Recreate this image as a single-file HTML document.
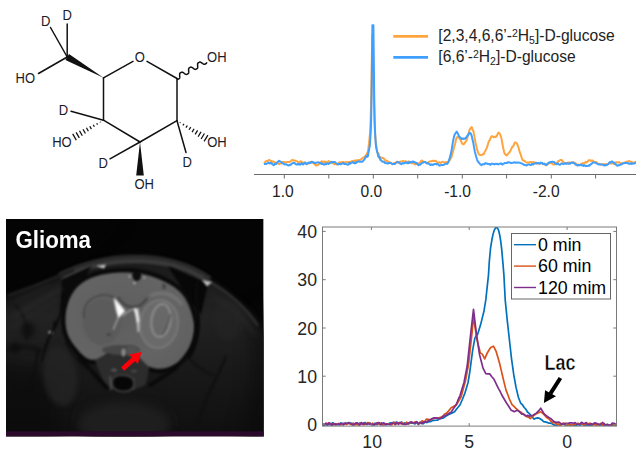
<!DOCTYPE html>
<html><head><meta charset="utf-8"><style>
html,body{margin:0;padding:0;background:#fff;}
body{width:636px;height:454px;overflow:hidden;}
svg{display:block;font-family:"Liberation Sans",sans-serif;}
</style></head><body>
<svg width="636" height="454" viewBox="0 0 636 454">
<rect width="636" height="454" fill="#fff"/>
<g><line x1="103.5" y1="77.8" x2="133.0" y2="61.4" stroke="#111" stroke-width="1.5" stroke-linecap="round"/>
<line x1="147.0" y1="61.4" x2="177.0" y2="78.5" stroke="#111" stroke-width="1.5" stroke-linecap="round"/>
<line x1="177.0" y1="78.5" x2="177.0" y2="120.7" stroke="#111" stroke-width="1.5" stroke-linecap="round"/>
<line x1="177.0" y1="120.7" x2="140.0" y2="142.0" stroke="#111" stroke-width="1.5" stroke-linecap="round"/>
<line x1="140.0" y1="142.0" x2="103.5" y2="120.2" stroke="#111" stroke-width="1.5" stroke-linecap="round"/>
<line x1="103.5" y1="120.2" x2="103.5" y2="77.8" stroke="#111" stroke-width="1.5" stroke-linecap="round"/>
<polygon points="103.5,77.8 69.0,53.9 65.4,60.1" fill="#111"/>
<line x1="67.2" y1="57.0" x2="67.2" y2="24.0" stroke="#111" stroke-width="1.5" stroke-linecap="round"/>
<line x1="67.2" y1="57.0" x2="50.5" y2="27.5" stroke="#111" stroke-width="1.5" stroke-linecap="round"/>
<line x1="67.2" y1="57.0" x2="38.5" y2="73.5" stroke="#111" stroke-width="1.5" stroke-linecap="round"/>
<line x1="103.5" y1="120.2" x2="71.0" y2="111.3" stroke="#111" stroke-width="1.5" stroke-linecap="round"/>
<line x1="100.1" y1="121.7" x2="100.5" y2="122.4" stroke="#111" stroke-width="1.25"/>
<line x1="96.7" y1="123.2" x2="97.5" y2="124.6" stroke="#111" stroke-width="1.25"/>
<line x1="93.2" y1="124.8" x2="94.4" y2="126.8" stroke="#111" stroke-width="1.25"/>
<line x1="89.8" y1="126.3" x2="91.4" y2="129.1" stroke="#111" stroke-width="1.25"/>
<line x1="86.4" y1="127.8" x2="88.4" y2="131.3" stroke="#111" stroke-width="1.25"/>
<line x1="83.0" y1="129.3" x2="85.4" y2="133.5" stroke="#111" stroke-width="1.25"/>
<line x1="79.5" y1="130.8" x2="82.3" y2="135.7" stroke="#111" stroke-width="1.25"/>
<line x1="76.1" y1="132.4" x2="79.3" y2="137.9" stroke="#111" stroke-width="1.25"/>
<line x1="72.7" y1="133.9" x2="76.3" y2="140.1" stroke="#111" stroke-width="1.25"/>
<line x1="140.0" y1="142.0" x2="110.0" y2="158.8" stroke="#111" stroke-width="1.5" stroke-linecap="round"/>
<polygon points="140.0,142.0 136.2,175.5 143.8,175.5" fill="#111"/>
<line x1="180.0" y1="123.0" x2="180.4" y2="122.3" stroke="#111" stroke-width="1.25"/>
<line x1="183.0" y1="125.3" x2="183.9" y2="123.9" stroke="#111" stroke-width="1.25"/>
<line x1="186.0" y1="127.6" x2="187.3" y2="125.5" stroke="#111" stroke-width="1.25"/>
<line x1="189.1" y1="129.8" x2="190.7" y2="127.1" stroke="#111" stroke-width="1.25"/>
<line x1="192.1" y1="132.1" x2="194.1" y2="128.7" stroke="#111" stroke-width="1.25"/>
<line x1="195.1" y1="134.4" x2="197.6" y2="130.3" stroke="#111" stroke-width="1.25"/>
<line x1="198.1" y1="136.7" x2="201.0" y2="131.9" stroke="#111" stroke-width="1.25"/>
<line x1="201.1" y1="139.0" x2="204.4" y2="133.5" stroke="#111" stroke-width="1.25"/>
<line x1="204.1" y1="141.3" x2="207.9" y2="135.1" stroke="#111" stroke-width="1.25"/>
<line x1="177.0" y1="120.7" x2="186.0" y2="152.5" stroke="#111" stroke-width="1.5" stroke-linecap="round"/>
<polyline points="177.02,79.41 177.30,79.47 177.54,79.46 177.76,79.41 177.96,79.33 178.14,79.22 178.33,79.11 178.51,79.01 178.70,78.90 178.89,78.80 179.08,78.70 179.26,78.58 179.42,78.43 179.55,78.23 179.65,77.97 179.72,77.65 179.75,77.27 179.75,76.83 179.73,76.35 179.69,75.85 179.65,75.34 179.62,74.85 179.62,74.41 179.64,74.01 179.70,73.68 179.80,73.42 179.93,73.21 180.09,73.05 180.26,72.92 180.45,72.82 180.64,72.72 180.83,72.62 181.01,72.51 181.20,72.40 181.38,72.29 181.58,72.20 181.79,72.15 182.03,72.13 182.30,72.18 182.61,72.29 182.95,72.46 183.32,72.69 183.72,72.96 184.13,73.25 184.54,73.55 184.94,73.82 185.32,74.06 185.67,74.25 185.99,74.37 186.27,74.43 186.51,74.43 186.73,74.38 186.93,74.29 187.12,74.19 187.30,74.08 187.48,73.97 187.67,73.87 187.86,73.77 188.05,73.66 188.23,73.54 188.39,73.39 188.53,73.20 188.63,72.94 188.70,72.63 188.73,72.25 188.73,71.81 188.71,71.33 188.67,70.83 188.63,70.32 188.61,69.83 188.60,69.39 188.62,68.99 188.68,68.66 188.78,68.39 188.91,68.18 189.06,68.02 189.23,67.89 189.42,67.78 189.61,67.68 189.80,67.58 189.99,67.47 190.17,67.36 190.36,67.26 190.55,67.17 190.76,67.11 191.00,67.09 191.27,67.13 191.57,67.24 191.91,67.41 192.29,67.63 192.68,67.90 193.09,68.20 193.51,68.49 193.91,68.77 194.29,69.01 194.64,69.20 194.96,69.32 195.24,69.38 195.48,69.39 195.70,69.34 195.90,69.26 196.09,69.15 196.27,69.04 196.46,68.93 196.65,68.83 196.84,68.73 197.03,68.63 197.20,68.51 197.37,68.36 197.50,68.17 197.61,67.92 197.68,67.60 197.71,67.23 197.72,66.79 197.69,66.32 197.66,65.81 197.62,65.30 197.59,64.82 197.58,64.36 197.60,63.97 197.66,63.63 197.75,63.36 197.88,63.14 198.03,62.98 198.21,62.85 198.39,62.75 198.58,62.65 198.77,62.55 198.96,62.44 199.14,62.33 199.33,62.22 199.52,62.13 199.73,62.07 199.97,62.05 200.24,62.09 200.54,62.19 200.88,62.36 201.25,62.58 201.65,62.85 202.06,63.14 202.47,63.44 202.87,63.72 203.25,63.96 203.61,64.15 203.92,64.28 204.21,64.34 204.45,64.35 204.68,64.30 204.88,64.22 205.06,64.12 205.25,64.01 205.43,63.90 205.62,63.79 205.81,63.70 206.00,63.59 206.18,63.48 206.34,63.33 206.48,63.14 206.59,62.89 206.66,62.58 206.69,62.20" fill="none" stroke="#111" stroke-width="1.5" stroke-linejoin="round"/>
<text transform="translate(45.8,25.6) scale(0.93,1)" font-size="14" text-anchor="middle" fill="#1a1a2a">D</text>
<text transform="translate(67.2,19.7) scale(0.93,1)" font-size="14" text-anchor="middle" fill="#1a1a2a">D</text>
<text transform="translate(25.3,83.1) scale(0.93,1)" font-size="14" text-anchor="middle" fill="#1a1a2a">HO</text>
<text transform="translate(139.8,62.3) scale(0.93,1)" font-size="14" text-anchor="middle" fill="#1a1a2a">O</text>
<text transform="translate(216.8,62.3) scale(0.93,1)" font-size="14" text-anchor="middle" fill="#1a1a2a">OH</text>
<text transform="translate(63.4,114.5) scale(0.93,1)" font-size="14" text-anchor="middle" fill="#1a1a2a">D</text>
<text transform="translate(61.9,147) scale(0.93,1)" font-size="14" text-anchor="middle" fill="#1a1a2a">HO</text>
<text transform="translate(103.3,168) scale(0.93,1)" font-size="14" text-anchor="middle" fill="#1a1a2a">D</text>
<text transform="translate(144.2,189.1) scale(0.93,1)" font-size="14" text-anchor="middle" fill="#1a1a2a">OH</text>
<text transform="translate(217,146.7) scale(0.93,1)" font-size="14" text-anchor="middle" fill="#1a1a2a">OH</text>
<text transform="translate(187.3,166.5) scale(0.93,1)" font-size="14" text-anchor="middle" fill="#1a1a2a">D</text></g>
<g><line x1="254" y1="174.5" x2="636" y2="174.5" stroke="#6a6a6a" stroke-width="1"/>
<line x1="284.3" y1="174.5" x2="284.3" y2="178.5" stroke="#6a6a6a" stroke-width="1"/>
<line x1="328.8" y1="174.5" x2="328.8" y2="178.5" stroke="#6a6a6a" stroke-width="1"/>
<line x1="373.3" y1="174.5" x2="373.3" y2="178.5" stroke="#6a6a6a" stroke-width="1"/>
<line x1="417.7" y1="174.5" x2="417.7" y2="178.5" stroke="#6a6a6a" stroke-width="1"/>
<line x1="462.3" y1="174.5" x2="462.3" y2="178.5" stroke="#6a6a6a" stroke-width="1"/>
<line x1="506.6" y1="174.5" x2="506.6" y2="178.5" stroke="#6a6a6a" stroke-width="1"/>
<line x1="551.3" y1="174.5" x2="551.3" y2="178.5" stroke="#6a6a6a" stroke-width="1"/>
<line x1="595.6" y1="174.5" x2="595.6" y2="178.5" stroke="#6a6a6a" stroke-width="1"/>
<text x="282.9" y="197" font-size="15.6" text-anchor="middle" fill="#222" font-weight="normal" >1.0</text>
<text x="371.4" y="197" font-size="15.6" text-anchor="middle" fill="#222" font-weight="normal" >0.0</text>
<text x="457.6" y="197" font-size="15.6" text-anchor="middle" fill="#222" font-weight="normal" >-1.0</text>
<text x="546.2" y="197" font-size="15.6" text-anchor="middle" fill="#222" font-weight="normal" >-2.0</text>
<polyline points="264.00,163.71 264.75,162.61 265.50,161.56 266.25,160.94 267.00,161.13 267.75,160.94 268.50,160.39 269.25,159.77 270.00,160.57 270.75,160.89 271.50,160.99 272.25,161.69 273.00,161.56 273.75,161.61 274.50,162.57 275.25,162.40 276.00,162.73 276.75,162.88 277.50,163.20 278.25,163.21 279.00,164.18 279.75,163.61 280.50,163.58 281.25,163.58 282.00,163.16 282.75,161.93 283.50,162.09 284.25,162.03 285.00,162.33 285.75,162.16 286.50,162.14 287.25,161.95 288.00,162.08 288.75,161.87 289.50,162.00 290.25,161.46 291.00,161.00 291.75,160.24 292.50,160.04 293.25,160.18 294.00,160.52 294.75,160.53 295.50,160.71 296.25,161.06 297.00,161.33 297.75,161.69 298.50,162.38 299.25,162.35 300.00,161.57 300.75,161.26 301.50,161.83 302.25,162.41 303.00,163.13 303.75,162.38 304.50,162.38 305.25,163.29 306.00,163.96 306.75,164.18 307.50,163.43 308.25,163.63 309.00,163.38 309.75,163.20 310.50,161.96 311.25,162.25 312.00,161.89 312.75,163.01 313.50,162.77 314.25,164.00 315.00,164.17 315.75,165.50 316.50,165.41 317.25,164.94 318.00,164.94 318.75,164.34 319.50,163.29 320.25,162.65 321.00,161.92 321.75,161.15 322.50,161.96 323.25,161.92 324.00,161.70 324.75,161.57 325.50,162.19 326.25,161.77 327.00,162.25 327.75,162.08 328.50,161.10 329.25,161.38 330.00,162.48 330.75,162.35 331.50,162.59 332.25,163.06 333.00,163.05 333.75,163.93 334.50,164.29 335.25,163.60 336.00,163.94 336.75,164.60 337.50,164.24 338.25,163.43 339.00,162.58 339.75,162.18 340.50,162.67 341.25,162.46 342.00,162.05 342.75,162.29 343.50,162.09 344.25,162.53 345.00,162.40 345.75,162.08 346.50,162.44 347.25,161.99 348.00,162.13 348.75,162.05 349.50,161.91 350.25,162.15 351.00,161.65 351.75,161.22 352.50,161.46 353.25,160.70 354.00,161.50 354.75,160.64 355.50,160.32 356.25,160.96 357.00,160.26 357.75,160.66 358.50,160.14 359.25,159.89 360.00,159.89 360.75,159.72 361.50,158.88 362.25,158.40 363.00,157.68 363.75,157.47 364.50,156.73 365.25,156.28 366.00,155.18 366.20,154.93 366.40,154.81 366.60,154.62 366.80,153.58 367.00,153.29 367.20,153.15 367.40,152.43 367.60,152.07 367.80,151.81 368.00,150.56 368.20,149.90 368.40,148.09 368.60,146.22 368.80,144.66 369.00,143.47 369.20,141.39 369.40,139.25 369.60,137.33 369.80,135.61 370.00,132.99 370.20,130.03 370.40,125.07 370.60,120.12 370.80,113.70 371.00,106.00 371.20,96.23 371.40,86.13 371.60,74.16 371.80,61.55 372.00,50.07 372.20,40.58 372.40,35.19 372.60,34.23 372.80,37.94 373.00,45.57 373.20,57.55 373.40,69.70 373.60,83.46 373.80,95.20 374.00,104.79 374.20,113.17 374.40,120.03 374.60,124.81 374.80,129.04 375.00,132.38 375.20,134.56 375.40,137.98 375.60,139.53 375.80,141.93 376.00,143.45 376.20,144.79 376.40,146.17 376.60,148.10 376.80,148.34 377.00,150.06 377.20,151.22 377.40,151.83 377.60,152.44 377.80,152.64 378.00,152.51 378.20,153.81 378.40,153.60 378.60,153.76 378.80,154.71 379.00,156.13 379.20,156.78 379.40,157.75 379.60,157.86 379.80,157.95 380.00,157.42 380.25,157.07 381.00,157.97 381.75,157.74 382.50,158.00 383.25,158.03 384.00,158.78 384.75,159.61 385.50,160.91 386.25,160.54 387.00,160.93 387.75,161.39 388.50,162.11 389.25,162.65 390.00,162.44 390.75,162.57 391.50,163.41 392.25,164.33 393.00,163.68 393.75,163.23 394.50,163.07 395.25,163.84 396.00,162.71 396.75,161.93 397.50,161.61 398.25,162.51 399.00,162.76 399.75,162.01 400.50,161.45 401.25,161.50 402.00,161.41 402.75,161.02 403.50,161.12 404.25,161.22 405.00,161.51 405.75,161.31 406.50,161.68 407.25,162.18 408.00,162.22 408.75,161.33 409.50,161.66 410.25,161.90 411.00,162.90 411.75,163.22 412.50,163.16 413.25,163.15 414.00,163.76 414.75,163.90 415.50,164.46 416.25,164.05 417.00,163.91 417.75,163.14 418.50,163.71 419.25,163.42 420.00,162.68 420.75,161.41 421.50,160.55 422.25,160.50 423.00,161.76 423.75,161.63 424.50,162.07 425.25,162.47 426.00,162.77 426.75,162.96 427.50,163.26 428.25,162.00 429.00,161.80 429.75,161.53 430.50,161.36 431.25,161.15 432.00,161.01 432.75,160.84 433.50,160.95 434.25,161.03 435.00,160.75 435.75,160.86 436.50,161.73 437.25,162.48 438.00,162.56 438.75,162.63 439.50,162.23 440.25,163.15 441.00,162.67 441.75,162.02 442.50,161.86 443.25,161.87 444.00,162.67 444.75,162.56 445.50,162.47 446.25,162.00 447.00,162.48 447.75,162.23 448.50,162.17 449.25,160.47 450.00,159.87 450.75,158.31 451.50,157.23 452.25,153.91 453.00,151.65 453.75,148.79 454.50,145.76 455.25,143.18 456.00,139.66 456.75,137.19 457.50,137.25 458.25,136.87 459.00,137.43 459.75,139.21 460.50,140.06 461.25,141.57 462.00,143.26 462.75,144.14 463.50,144.20 464.25,143.79 465.00,142.42 465.75,141.54 466.50,140.59 467.25,137.98 468.00,135.62 468.75,132.83 469.50,130.02 470.25,128.44 471.00,127.69 471.75,127.15 472.50,129.64 473.25,130.64 474.00,134.34 474.75,138.36 475.50,142.48 476.25,145.64 477.00,149.47 477.75,151.41 478.50,153.44 479.25,154.68 480.00,154.85 480.75,155.17 481.50,155.05 482.25,154.88 483.00,154.04 483.75,154.26 484.50,152.28 485.25,150.97 486.00,149.53 486.75,147.82 487.50,145.64 488.25,143.17 489.00,140.96 489.75,140.04 490.50,138.29 491.25,136.58 492.00,136.12 492.75,136.36 493.50,137.23 494.25,137.01 495.00,136.60 495.75,137.00 496.50,136.47 497.25,134.99 498.00,133.07 498.75,132.62 499.50,133.20 500.25,134.93 501.00,136.64 501.75,140.12 502.50,144.30 503.25,148.16 504.00,151.34 504.75,153.86 505.50,154.38 506.25,155.45 507.00,155.27 507.75,154.17 508.50,153.33 509.25,152.60 510.00,151.41 510.75,150.17 511.50,148.42 512.25,146.94 513.00,146.41 513.75,145.08 514.50,143.03 515.25,142.33 516.00,142.74 516.75,143.25 517.50,144.91 518.25,146.84 519.00,149.32 519.75,152.27 520.50,153.83 521.25,156.20 522.00,158.72 522.75,160.35 523.50,160.70 524.25,160.54 525.00,161.40 525.75,161.98 526.50,162.50 527.25,162.44 528.00,162.58 528.75,162.50 529.50,162.59 530.25,161.92 531.00,162.23 531.75,162.31 532.50,162.23 533.25,162.07 534.00,162.13 534.75,163.01 535.50,162.66 536.25,163.21 537.00,163.42 537.75,162.90 538.50,163.16 539.25,163.72 540.00,163.66 540.75,163.57 541.50,163.37 542.25,163.13 543.00,163.96 543.75,164.11 544.50,164.34 545.25,164.26 546.00,165.39 546.75,164.58 547.50,163.92 548.25,163.79 549.00,163.18 549.75,163.19 550.50,163.19 551.25,162.77 552.00,163.43 552.75,164.33 553.50,164.15 554.25,164.45 555.00,163.96 555.75,163.64 556.50,163.25 557.25,162.60 558.00,161.31 558.75,161.22 559.50,160.61 560.25,159.89 561.00,160.01 561.75,160.03 562.50,161.09 563.25,162.16 564.00,162.61 564.75,163.37 565.50,163.64 566.25,163.13 567.00,163.48 567.75,162.52 568.50,162.80 569.25,162.47 570.00,162.52 570.75,162.48 571.50,162.45 572.25,162.48 573.00,163.12 573.75,162.11 574.50,162.81 575.25,162.93 576.00,163.54 576.75,164.77 577.50,165.26 578.25,164.50 579.00,165.16 579.75,164.91 580.50,164.58 581.25,164.10 582.00,163.49 582.75,162.94 583.50,163.91 584.25,162.98 585.00,162.46 585.75,161.89 586.50,162.51 587.25,161.92 588.00,161.19 588.75,160.18 589.50,160.27 590.25,160.35 591.00,161.11 591.75,160.51 592.50,160.49 593.25,161.33 594.00,161.63 594.75,162.26 595.50,162.69 596.25,162.12 597.00,162.65 597.75,163.36 598.50,163.62 599.25,164.21 600.00,164.67 600.75,164.66 601.50,164.42 602.25,164.11 603.00,164.32 603.75,164.23 604.50,164.18 605.25,164.10 606.00,164.21 606.75,164.57 607.50,164.76 608.25,163.75 609.00,163.32 609.75,163.32 610.50,163.42 611.25,163.45 612.00,163.31 612.75,162.74 613.50,163.90 614.25,164.15 615.00,163.41 615.75,162.20 616.50,162.24 617.25,162.43 618.00,162.27 618.75,162.41 619.50,162.32 620.25,163.10 621.00,164.16 621.75,163.30 622.50,163.23 623.25,163.31 624.00,162.79 624.75,162.58 625.50,162.62 626.25,161.67 627.00,161.60 627.75,161.41 628.50,161.18 629.25,160.89 630.00,161.62 630.75,161.73 631.50,161.82 632.25,162.68 633.00,162.46 633.75,162.79 634.50,163.11 635.25,162.18 636.00,161.26" fill="none" stroke="#ffa53f" stroke-width="2" stroke-linejoin="round"/>
<polyline points="264.00,163.91 264.75,163.98 265.50,164.07 266.25,163.90 267.00,163.44 267.75,163.18 268.50,162.55 269.25,163.34 270.00,163.57 270.75,162.83 271.50,163.06 272.25,164.16 273.00,164.60 273.75,165.26 274.50,164.44 275.25,163.58 276.00,164.20 276.75,163.04 277.50,162.06 278.25,161.54 279.00,160.81 279.75,161.19 280.50,161.73 281.25,162.12 282.00,162.70 282.75,163.26 283.50,163.59 284.25,164.38 285.00,164.37 285.75,164.17 286.50,164.36 287.25,164.96 288.00,165.21 288.75,165.47 289.50,165.03 290.25,164.75 291.00,164.76 291.75,163.59 292.50,163.30 293.25,162.75 294.00,162.92 294.75,163.01 295.50,163.93 296.25,164.63 297.00,164.54 297.75,163.84 298.50,164.48 299.25,164.01 300.00,164.75 300.75,164.05 301.50,163.07 302.25,163.86 303.00,164.57 303.75,163.77 304.50,163.29 305.25,162.47 306.00,163.18 306.75,164.04 307.50,163.40 308.25,162.73 309.00,162.51 309.75,162.48 310.50,163.06 311.25,162.07 312.00,161.82 312.75,162.23 313.50,162.16 314.25,162.95 315.00,163.04 315.75,162.84 316.50,162.76 317.25,162.58 318.00,162.29 318.75,162.38 319.50,162.68 320.25,163.53 321.00,163.10 321.75,164.06 322.50,163.79 323.25,164.02 324.00,164.75 324.75,164.33 325.50,163.44 326.25,164.30 327.00,163.45 327.75,163.51 328.50,163.98 329.25,163.31 330.00,162.87 330.75,162.84 331.50,161.70 332.25,162.16 333.00,162.13 333.75,161.91 334.50,161.96 335.25,162.15 336.00,163.25 336.75,163.74 337.50,163.72 338.25,164.50 339.00,163.96 339.75,163.68 340.50,164.24 341.25,164.05 342.00,163.74 342.75,163.24 343.50,163.07 344.25,164.00 345.00,164.04 345.75,164.07 346.50,164.13 347.25,164.55 348.00,164.82 348.75,164.00 349.50,162.83 350.25,163.76 351.00,162.83 351.75,162.57 352.50,162.09 353.25,162.55 354.00,163.11 354.75,163.37 355.50,162.31 356.25,162.84 357.00,161.95 357.75,161.81 358.50,161.36 359.25,161.55 360.00,161.79 360.75,161.73 361.50,161.75 362.25,161.65 363.00,161.05 363.75,160.28 364.50,159.25 365.25,157.90 366.00,156.92 366.20,155.95 366.40,156.12 366.60,155.95 366.80,155.72 367.00,155.91 367.20,156.65 367.40,156.81 367.60,156.72 367.80,156.20 368.00,155.61 368.20,154.54 368.40,152.71 368.60,151.81 368.80,150.95 369.00,150.27 369.20,148.41 369.40,147.72 369.60,146.79 369.80,145.96 370.00,143.20 370.20,141.19 370.40,137.17 370.60,134.22 370.80,129.73 371.00,124.25 371.20,116.42 371.40,106.74 371.60,93.67 371.80,79.24 372.00,61.35 372.20,42.72 372.40,25.25 372.60,25.20 372.80,25.20 373.00,25.20 373.20,25.20 373.40,25.26 373.60,42.66 373.80,60.58 374.00,77.86 374.20,93.59 374.40,105.51 374.60,115.38 374.80,123.76 375.00,130.08 375.20,135.13 375.40,138.50 375.60,141.56 375.80,144.58 376.00,146.34 376.20,147.87 376.40,148.37 376.60,149.70 376.80,150.41 377.00,151.26 377.20,152.05 377.40,152.60 377.60,153.15 377.80,154.33 378.00,154.76 378.20,156.42 378.40,156.47 378.60,156.33 378.80,156.83 379.00,157.18 379.20,157.16 379.40,156.92 379.60,157.19 379.80,157.97 380.00,158.76 380.25,159.79 381.00,160.08 381.75,161.23 382.50,161.71 383.25,161.48 384.00,161.95 384.75,162.79 385.50,162.98 386.25,163.22 387.00,163.27 387.75,163.54 388.50,163.28 389.25,162.98 390.00,162.97 390.75,163.00 391.50,163.48 392.25,163.99 393.00,164.00 393.75,164.08 394.50,164.07 395.25,163.40 396.00,162.63 396.75,162.29 397.50,161.91 398.25,162.21 399.00,162.41 399.75,162.92 400.50,163.83 401.25,164.15 402.00,163.74 402.75,163.01 403.50,163.50 404.25,163.17 405.00,163.02 405.75,162.51 406.50,162.34 407.25,163.25 408.00,163.25 408.75,162.33 409.50,162.86 410.25,162.01 411.00,162.34 411.75,162.26 412.50,161.45 413.25,161.49 414.00,162.11 414.75,162.11 415.50,162.87 416.25,162.66 417.00,163.38 417.75,164.41 418.50,165.22 419.25,164.68 420.00,164.72 420.75,164.16 421.50,163.35 422.25,162.93 423.00,162.63 423.75,162.00 424.50,162.09 425.25,161.93 426.00,162.59 426.75,163.23 427.50,163.41 428.25,163.47 429.00,163.74 429.75,164.40 430.50,165.10 431.25,164.34 432.00,164.86 432.75,165.00 433.50,164.21 434.25,164.29 435.00,164.08 435.75,164.09 436.50,164.45 437.25,164.00 438.00,164.19 438.75,165.03 439.50,165.65 440.25,165.45 441.00,165.12 441.75,164.90 442.50,165.07 443.25,164.95 444.00,164.68 444.75,164.26 445.50,163.70 446.25,163.60 447.00,163.91 447.75,163.23 448.50,161.44 449.25,159.66 450.00,156.62 450.75,154.40 451.50,150.80 452.25,146.22 453.00,141.35 453.75,137.86 454.50,134.88 455.25,133.69 456.00,132.43 456.75,131.60 457.50,133.11 458.25,134.44 459.00,136.33 459.75,137.13 460.50,137.56 461.25,138.59 462.00,139.11 462.75,138.44 463.50,138.96 464.25,138.55 465.00,138.74 465.75,138.14 466.50,136.95 467.25,135.82 468.00,135.35 468.75,133.73 469.50,132.74 470.25,132.90 471.00,133.94 471.75,136.12 472.50,139.46 473.25,142.51 474.00,147.18 474.75,151.17 475.50,154.11 476.25,156.95 477.00,159.28 477.75,161.29 478.50,162.11 479.25,162.97 480.00,164.05 480.75,164.67 481.50,165.13 482.25,164.45 483.00,164.06 483.75,164.47 484.50,164.18 485.25,163.00 486.00,163.57 486.75,163.50 487.50,163.75 488.25,164.09 489.00,164.16 489.75,164.02 490.50,164.85 491.25,163.72 492.00,163.75 492.75,163.76 493.50,163.96 494.25,164.41 495.00,164.13 495.75,163.86 496.50,163.94 497.25,163.80 498.00,164.31 498.75,164.24 499.50,163.68 500.25,163.74 501.00,163.38 501.75,164.00 502.50,164.62 503.25,163.76 504.00,163.61 504.75,163.04 505.50,162.88 506.25,162.93 507.00,163.01 507.75,162.25 508.50,162.54 509.25,162.34 510.00,162.44 510.75,163.12 511.50,162.99 512.25,162.76 513.00,162.67 513.75,162.48 514.50,162.36 515.25,162.78 516.00,162.33 516.75,162.70 517.50,162.72 518.25,162.61 519.00,162.62 519.75,162.75 520.50,163.00 521.25,163.19 522.00,163.74 522.75,163.85 523.50,164.72 524.25,164.76 525.00,164.90 525.75,165.11 526.50,165.58 527.25,164.91 528.00,164.54 528.75,164.62 529.50,164.60 530.25,164.93 531.00,165.02 531.75,164.06 532.50,163.96 533.25,164.48 534.00,163.64 534.75,163.49 535.50,163.28 536.25,162.70 537.00,163.52 537.75,163.38 538.50,162.97 539.25,163.51 540.00,163.41 540.75,162.61 541.50,162.94 542.25,163.10 543.00,164.15 543.75,163.79 544.50,163.57 545.25,164.50 546.00,164.88 546.75,164.88 547.50,163.97 548.25,162.85 549.00,162.83 549.75,162.25 550.50,161.99 551.25,162.00 552.00,161.85 552.75,161.80 553.50,161.94 554.25,162.07 555.00,163.08 555.75,163.63 556.50,164.15 557.25,163.55 558.00,163.44 558.75,164.41 559.50,164.73 560.25,164.64 561.00,163.80 561.75,163.23 562.50,163.75 563.25,164.22 564.00,163.78 564.75,163.21 565.50,163.13 566.25,163.78 567.00,163.42 567.75,163.35 568.50,163.74 569.25,163.49 570.00,163.72 570.75,163.04 571.50,162.63 572.25,162.42 573.00,162.97 573.75,163.05 574.50,163.43 575.25,164.26 576.00,164.85 576.75,164.71 577.50,165.45 578.25,164.96 579.00,165.18 579.75,165.31 580.50,164.55 581.25,164.91 582.00,165.33 582.75,165.56 583.50,165.95 584.25,165.22 585.00,165.34 585.75,166.12 586.50,165.85 587.25,165.88 588.00,165.86 588.75,165.35 589.50,165.75 590.25,164.71 591.00,164.03 591.75,163.75 592.50,162.80 593.25,162.28 594.00,162.57 594.75,162.45 595.50,162.65 596.25,163.41 597.00,163.66 597.75,164.07 598.50,164.45 599.25,164.37 600.00,164.25 600.75,164.45 601.50,164.52 602.25,164.49 603.00,164.95 603.75,165.07 604.50,165.59 605.25,164.95 606.00,165.23 606.75,164.90 607.50,164.42 608.25,164.04 609.00,163.15 609.75,162.16 610.50,162.61 611.25,161.96 612.00,161.34 612.75,162.16 613.50,162.35 614.25,162.92 615.00,163.89 615.75,164.13 616.50,165.26 617.25,165.75 618.00,165.63 618.75,165.03 619.50,165.14 620.25,164.88 621.00,164.22 621.75,164.14 622.50,163.54 623.25,163.12 624.00,163.23 624.75,163.11 625.50,162.92 626.25,162.94 627.00,162.96 627.75,163.28 628.50,163.35 629.25,163.89 630.00,163.73 630.75,163.32 631.50,164.07 632.25,163.59 633.00,163.41 633.75,163.65 634.50,163.27 635.25,162.83 636.00,162.78" fill="none" stroke="#3f9fff" stroke-width="2" stroke-linejoin="round"/>
<line x1="393.3" y1="36.3" x2="428" y2="36.3" stroke="#ffa53f" stroke-width="2.7"/>
<line x1="393.3" y1="57.4" x2="428" y2="57.4" stroke="#3f9fff" stroke-width="2.7"/>
<text x="438.3" y="41.3" font-size="15.6" fill="#222">[2,3,4,6,6’-<tspan font-size="10.5" dy="-4.5">2</tspan><tspan dy="4.5">H</tspan><tspan font-size="10.5" dy="2.5">5</tspan><tspan dy="-2.5">]-D-glucose</tspan></text>
<text x="438.3" y="62.3" font-size="15.6" fill="#222">[6,6’-<tspan font-size="10.5" dy="-4.5">2</tspan><tspan dy="4.5">H</tspan><tspan font-size="10.5" dy="2.5">2</tspan><tspan dy="-2.5">]-D-glucose</tspan></text></g>
<defs><clipPath id="mclip"><rect x="6" y="219" width="257.6" height="217.2"/></clipPath>
<filter color-interpolation-filters="sRGB" id="b1" x="-20%" y="-20%" width="140%" height="140%"><feGaussianBlur stdDeviation="1.1" color-interpolation-filters="sRGB"/></filter>
<filter color-interpolation-filters="sRGB" id="b2" x="-20%" y="-20%" width="140%" height="140%"><feGaussianBlur stdDeviation="2.5"/></filter>
<filter color-interpolation-filters="sRGB" id="b4" x="-30%" y="-30%" width="160%" height="160%"><feGaussianBlur stdDeviation="5"/></filter>
<filter color-interpolation-filters="sRGB" id="b8" x="-30%" y="-30%" width="160%" height="160%"><feGaussianBlur stdDeviation="9"/></filter>
<linearGradient id="bodyg" x1="0" y1="0" x2="0" y2="1"><stop offset="0" stop-color="#1a1a1a"/><stop offset="0.3" stop-color="#222"/><stop offset="0.55" stop-color="#191919"/><stop offset="0.8" stop-color="#121212"/><stop offset="1" stop-color="#090909"/></linearGradient>
<radialGradient id="braing" cx="0.42" cy="0.45" r="0.65"><stop offset="0" stop-color="#5e5e5e"/><stop offset="0.7" stop-color="#646464"/><stop offset="1" stop-color="#606060"/></radialGradient>
</defs>
<g clip-path="url(#mclip)">
<rect x="6" y="219" width="257.6" height="217.2" fill="#040404"/>
<g filter="url(#b2)">
<path d="M-10,460 L-10,300 C20,292 50,280 74,270 C95,261 115,256 135,256 C165,256 190,266 209,279 C225,289 245,305 257,320 C266,332 270,345 272,360 L272,460 Z" fill="url(#bodyg)"/>
</g>
<g filter="url(#b8)"><path d="M-10,215 L120,215 L60,270 L-10,310 Z" fill="#050505" opacity="0.85"/>
<path d="M270,300 L270,440 L240,440 C255,400 258,350 250,320 Z" fill="#080808" opacity="0.7"/>
<path d="M-10,360 L50,370 L60,440 L-10,440 Z" fill="#080808" opacity="0.55"/>
</g>
<g filter="url(#b1)" fill="none">
<path d="M60,277 C85,264.5 110,259.5 135,259.5 C165,259.5 190,267 209,280.5" stroke="#2a2a2a" stroke-width="9"/>
<path d="M64,277 C86,266 110,261 135,261 C165,261 190,268.5 207,281" stroke="#3a3a3a" stroke-width="4"/>
<path d="M208,281 C228,292 246,308 258,326" stroke="#333" stroke-width="2"/>
<path d="M74,270 C50,280 30,288 8,296" stroke="#1e1e1e" stroke-width="3"/>
</g>
<g filter="url(#b1)">
<path d="M168,266 L208,284 L201,314 L190,300 L178,282 Z" fill="#070707"/>
<path d="M92,266 L62,280 L60,312 L70,298 L82,282 Z" fill="#0a0a0a"/>
<path d="M130,272.8 C142,273 152,276 161,280 C170,284 176,288 180.5,292.5 C187,299 192,311 194,324 C195,336 190,350 180,360 C172,368 160,371 150,367 C144,364 141,357 134,354 C126,351.5 112,351.5 106,354 C100,357 96,361 90,359.5 C85,358 81,354 78,350 C69,340 65.5,332 65.5,320 C65.5,306 70,292 82,283 C94,274 112,272 130,272.5 Z" fill="#0a0a0a" stroke="#0a0a0a" stroke-width="9"/>
<path d="M94,358 C105,352 138,352 150,364 L146,384 C136,392 112,392 104,384 Z" fill="#2c2c2c"/>
<path d="M130,272.8 C142,273 152,276 161,280 C170,284 176,288 180.5,292.5 C187,299 192,311 194,324 C195,336 190,350 180,360 C172,368 160,371 150,367 C144,364 141,357 134,354 C126,351.5 112,351.5 106,354 C100,357 96,361 90,359.5 C85,358 81,354 78,350 C69,340 65.5,332 65.5,320 C65.5,306 70,292 82,283 C94,274 112,272 130,272.5 Z" fill="url(#braing)"/>
<ellipse cx="121" cy="350" rx="19" ry="5" fill="#474747"/>
</g>
<g filter="url(#b1)" fill="none">
<ellipse cx="102" cy="322" rx="19" ry="23" fill="#5b5b5b" stroke="none"/>
<path d="M84,318 C82,308 88,299 98,296 C105,294 110,295.5 114,297.5" stroke="#454545" stroke-width="1.5"/>
<path d="M118,297 C122,304 128,307 133,307 C139,307 144,303 147,298" stroke="#424242" stroke-width="2.2"/>
<ellipse cx="159" cy="324" rx="20" ry="25" fill="#6a6a6a" stroke="none" transform="rotate(8 159 324)"/>
<ellipse cx="159" cy="324" rx="19" ry="24" stroke="#787878" stroke-width="2" transform="rotate(8 159 324)"/>
<ellipse cx="161" cy="320.5" rx="9.5" ry="16.5" fill="#686868" stroke="#888" stroke-width="2.2" transform="rotate(8 161 320)"/>
<path d="M170.5,314 C169,322 166,329 162.5,335" stroke="#4e4e4e" stroke-width="1.3"/>
<path d="M150,296 C160,290 175,294 182,305" stroke="#787878" stroke-width="4" opacity="0.7"/>
<ellipse cx="164" cy="286.5" rx="1.8" ry="3" fill="#444" stroke="none"/>
<path d="M118.5,317 C117,321 115,325 113.5,329" stroke="#9c9c9c" stroke-width="1.5" stroke-linecap="round"/>
<path d="M114,298 C118,302 122,307 125,311 L118.5,318 C116.5,312 115,306 114,298 Z" fill="#f4f4f4" stroke="#c8c8c8" stroke-width="0.8"/>
<path d="M118,305 L122.5,311.5 L119,315 Z" fill="#fff" stroke="#fff" stroke-width="1"/>
<path d="M133.6,308 L138.6,308.5 C139.6,314 140,322 139.2,332 L137.4,332 C137,324 135.6,315 133.6,308 Z" fill="#b4b4b4" stroke="none"/>
<path d="M135.3,309.5 C136.5,313 137.5,317 138,321" stroke="#ececec" stroke-width="2.4" stroke-linecap="round"/>
<path d="M123,316 C126,312 131,310 134,309" stroke="#999" stroke-width="1.5"/>
<ellipse cx="136.8" cy="275.3" rx="4.4" ry="5.6" fill="#0c0c0c" stroke="none"/>
<circle cx="129.6" cy="276.4" r="1" fill="#c8c8c8" stroke="none"/>
<circle cx="134.4" cy="283.2" r="1.1" fill="#c8c8c8" stroke="none"/>
<circle cx="144.3" cy="277.8" r="1" fill="#bbb" stroke="none"/>
<ellipse cx="109" cy="334.5" rx="2.5" ry="1" fill="#3a3a3a" stroke="none"/>
<ellipse cx="123.5" cy="352.5" rx="2" ry="4" fill="#8a8a8a" stroke="none"/>
<ellipse cx="132" cy="351" rx="6" ry="6" fill="#525252" stroke="none"/>
</g>
<g filter="url(#b1)">
<path d="M96,266 L106,264.5 L104,268.5 Z" fill="#c8c8c8"/>
<path d="M202,280 L212,282 L207,286.5 Z" fill="#c0c0c0"/>
<ellipse cx="50.7" cy="332.6" rx="2.4" ry="1.8" fill="#a0a0a0"/>
<ellipse cx="55" cy="324" rx="2" ry="3" fill="#101010"/>
</g>
<g filter="url(#b1)" fill="none">
<path d="M79,356 C88,368 98,378 108,389" stroke="#0a0a0a" stroke-width="4"/>
<path d="M177,367 C168,374 158,380 149,386" stroke="#0a0a0a" stroke-width="4"/>
<path d="M112.5,380 C114,374 127,374 132.5,378.5 C136,385 133,391.5 124,391.5 C115,391.5 111,387 112.5,380 Z" fill="#060606" stroke="#3c3c3c" stroke-width="2"/>
<path d="M110,376 L111,390" stroke="#555" stroke-width="1.5"/>
<path d="M134.5,378 L134,390" stroke="#3c3c3c" stroke-width="1.5"/>
<ellipse cx="114" cy="370" rx="3" ry="1.5" fill="#555" stroke="none"/>
<ellipse cx="134" cy="371" rx="3" ry="1.5" fill="#444" stroke="none"/>
<path d="M66,300 C62,312 58,322 50,336 C46,344 44,352 42,362" stroke="#0c0c0c" stroke-width="2.5"/>
<path d="M38,350 C36,366 32,378 30,392" stroke="#0e0e0e" stroke-width="2"/>
<path d="M66,342 C72,356 82,366 92,372" stroke="#101010" stroke-width="2.2"/>
<path d="M10,300 C22,310 30,325 26,340" stroke="#161616" stroke-width="3"/>
<path d="M88,392 C80,400 74,410 72,420" stroke="#161616" stroke-width="2.5"/>
<path d="M196,300 C200,320 198,344 188,358" stroke="#0a0a0a" stroke-width="4"/>
<path d="M188,358 C196,366 204,372 214,376" stroke="#111" stroke-width="2"/>
<path d="M226,356 C220,372 212,386 206,400 C202,410 200,418 198,424" stroke="#101010" stroke-width="2.5"/>
<path d="M196,300 L197,282" stroke="#0c0c0c" stroke-width="3"/>
<path d="M160,390 C170,402 176,414 178,426" stroke="#161616" stroke-width="2.5"/>
</g>
<g filter="url(#b2)" fill="none">
<path d="M62,288 L14,316" stroke="#2c2c2c" stroke-width="2.5"/>
<path d="M58,298 L12,328" stroke="#272727" stroke-width="2"/>
<path d="M50,284 L10,304" stroke="#222" stroke-width="2"/>
<ellipse cx="28" cy="330" rx="7" ry="8" fill="#0e0e0e" stroke="none" opacity="0.8"/>
<ellipse cx="15" cy="348" rx="5" ry="6" fill="#0c0c0c" stroke="none" opacity="0.8"/>
<path d="M6,350 C20,345 32,346 42,352" stroke="#0b0b0b" stroke-width="3"/>
<ellipse cx="60" cy="376" rx="17" ry="30" fill="#262626" stroke="none" opacity="0.75" transform="rotate(-8 60 376)"/>
<ellipse cx="228" cy="320" rx="14" ry="20" fill="#242424" stroke="none" opacity="0.7"/>
<path d="M212,296 C228,304 244,318 256,336" stroke="#2a2a2a" stroke-width="2"/>
</g>
<g filter="url(#b4)"><ellipse cx="124" cy="424" rx="46" ry="22" fill="#232323" opacity="0.75"/></g>
<rect x="6" y="431.3" width="257.6" height="5" fill="#2b0a2b"/>
</g>
<line x1="122.6" y1="369" x2="135" y2="357.9" stroke="#fb0008" stroke-width="4.8"/>
<polygon points="141.6,352 137.8,364 129.2,354.4" fill="#fb0008"/>
<text x="15.4" y="247.7" font-size="23.6" font-weight="bold" fill="#fff" textLength="75.6" lengthAdjust="spacingAndGlyphs">Glioma</text>
<g><clipPath id="cp"><rect x="322.5" y="227" width="294.0" height="199.10000000000002"/></clipPath>
<g clip-path="url(#cp)" fill="none" stroke-width="1.7" stroke-linejoin="round">
<polyline points="322.50,424.29 324.14,424.57 325.79,424.69 327.43,425.03 329.07,424.53 330.71,424.96 332.36,422.80 334.00,423.84 335.64,424.97 337.29,424.25 338.93,424.85 340.57,422.95 342.21,423.79 343.86,423.24 345.50,423.95 347.14,424.01 348.79,422.65 350.43,423.13 352.07,423.27 353.71,424.78 355.36,424.41 357.00,422.94 358.64,424.46 360.29,422.87 361.93,424.01 363.57,422.82 365.21,422.51 366.86,424.58 368.50,422.98 370.14,422.99 371.79,424.81 373.43,424.54 375.07,423.13 376.71,424.73 378.36,423.71 380.00,424.03 381.67,422.86 383.33,424.59 385.00,423.96 386.67,424.59 388.33,424.38 390.00,422.92 391.67,423.03 393.33,422.53 395.00,422.45 396.67,422.22 398.33,422.76 400.00,423.45 401.67,422.02 403.33,423.66 405.00,422.86 406.67,422.81 408.33,424.05 410.00,423.25 411.67,422.87 413.33,423.29 415.00,423.84 416.67,422.30 418.33,424.52 420.00,422.25 421.74,423.70 423.49,423.63 425.23,421.81 426.98,422.61 428.72,421.71 430.47,421.71 432.21,420.59 433.96,420.35 435.70,420.24 437.68,420.18 439.65,418.31 441.62,418.34 443.60,417.82 445.70,416.29 447.80,415.01 449.90,413.95 452.25,412.86 454.60,411.80 456.43,409.19 458.27,407.06 460.10,404.71 462.45,399.23 464.80,393.43 468.00,382.76 469.70,372.55 472.60,350.64 474.80,338.44 476.20,335.55 477.60,334.54 480.70,324.35 482.35,317.62 484.00,310.93 485.80,299.93 487.30,285.88 488.50,274.85 489.30,261.47 490.50,248.47 491.90,239.78 493.00,234.38 494.10,230.64 495.20,228.48 496.40,227.11 497.60,228.27 498.70,230.71 499.60,234.53 500.50,239.72 501.60,248.38 502.80,261.57 503.90,274.84 504.60,288.15 505.20,299.83 507.20,319.80 509.40,339.72 511.60,359.37 513.80,374.98 516.00,387.16 518.30,397.05 520.60,403.05 522.40,404.68 524.20,407.52 525.83,409.18 527.47,412.01 529.10,413.35 531.50,415.99 533.90,419.10 535.75,418.32 537.60,417.87 539.60,418.44 541.60,419.69 543.60,421.58 545.23,421.91 546.87,422.32 548.50,423.08 550.33,423.15 552.15,423.80 553.97,424.91 555.80,425.25 557.41,425.00 559.02,424.70 560.63,424.31 562.24,423.71 563.85,424.15 565.46,425.38 567.07,425.58 568.68,424.37 570.29,425.39 571.91,425.36 573.52,425.17 575.13,425.09 576.74,425.32 578.35,424.37 579.96,425.19 581.57,424.17 583.18,424.67 584.79,425.35 586.40,425.16 588.01,424.21 589.62,425.60 591.23,425.06 592.84,424.89 594.45,423.53 596.06,424.81 597.67,424.10 599.28,425.11 600.89,424.61 602.51,425.46 604.12,425.05 605.73,425.41 607.34,424.33 608.95,425.05 610.56,425.27 612.17,425.49 613.78,424.34 615.39,425.52 617.00,425.59" stroke="#0072bd"/>
<polyline points="322.50,424.92 324.11,424.99 325.73,424.03 327.34,423.40 328.96,422.65 330.57,424.49 332.19,423.94 333.80,424.74 335.42,423.64 337.03,424.74 338.65,423.34 340.26,424.81 341.88,424.59 343.49,423.70 345.10,424.03 346.72,424.42 348.33,423.04 349.95,424.04 351.56,424.73 353.18,423.21 354.79,424.70 356.41,424.36 358.02,424.79 359.64,423.35 361.25,422.66 362.86,424.63 364.48,424.63 366.09,423.61 367.71,422.61 369.32,422.89 370.94,424.10 372.55,423.13 374.17,424.96 375.78,423.94 377.40,422.84 379.01,424.10 380.62,423.26 382.24,424.85 383.85,424.77 385.47,423.65 387.08,424.00 388.70,424.14 390.31,424.43 391.93,424.90 393.54,422.23 395.16,423.15 396.77,423.81 398.39,422.96 400.00,423.75 401.67,422.29 403.33,424.45 405.00,423.40 406.67,422.19 408.33,423.66 410.00,422.62 411.67,422.24 413.33,422.99 415.00,421.96 416.67,422.10 418.33,423.88 420.00,423.36 422.10,420.80 424.20,422.31 426.30,419.19 428.27,419.34 430.25,419.93 432.23,419.08 434.20,418.17 436.27,418.13 438.33,417.98 440.40,417.37 442.50,417.17 444.60,413.92 446.70,412.97 449.05,410.35 451.40,407.46 453.00,406.87 454.60,405.73 456.20,405.20 457.80,402.50 459.40,399.74 461.00,397.16 463.15,389.23 465.30,381.64 466.95,372.82 468.60,363.91 470.30,348.44 472.00,333.09 473.50,316.46 475.00,326.83 477.00,339.70 478.65,346.15 480.30,352.89 482.30,354.12 484.70,358.86 487.40,352.70 489.05,349.99 490.70,347.44 493.50,346.24 496.20,351.70 497.85,357.28 499.50,362.98 501.15,369.85 502.80,377.06 504.45,383.86 506.10,390.35 507.75,394.55 509.40,398.99 512.00,404.59 513.95,406.40 515.90,408.45 517.65,409.92 519.40,411.63 521.23,412.40 523.05,414.02 524.88,415.61 526.70,416.69 528.50,417.13 530.30,418.64 532.33,416.61 534.37,415.09 536.40,413.58 538.55,412.81 540.70,411.81 542.75,413.36 544.80,415.41 546.83,417.63 548.87,418.68 550.90,421.14 552.73,422.78 554.55,422.46 556.38,424.21 558.20,423.81 559.83,425.44 561.47,425.21 563.10,423.00 564.73,423.37 566.37,425.49 568.00,424.57 569.63,424.04 571.27,425.06 572.90,425.15 574.53,424.26 576.17,424.20 577.80,423.18 579.43,423.92 581.07,423.32 582.70,424.68 584.33,424.63 585.97,423.35 587.60,424.71 589.23,423.23 590.87,423.26 592.50,424.78 594.13,424.28 595.77,425.51 597.40,424.76 599.03,424.97 600.67,423.37 602.30,425.36 603.93,423.27 605.57,424.77 607.20,425.60 608.83,425.60 610.47,425.57 612.10,424.34 613.73,425.03 615.37,425.31 617.00,423.48" stroke="#d95319"/>
<polyline points="322.50,423.53 324.11,425.58 325.73,423.22 327.34,424.82 328.96,423.07 330.57,423.51 332.19,425.60 333.80,423.37 335.42,424.56 337.03,424.04 338.65,424.00 340.26,424.10 341.88,423.24 343.49,425.01 345.10,422.92 346.72,423.31 348.33,422.69 349.95,423.36 351.56,423.74 353.18,425.11 354.79,423.63 356.41,422.87 358.02,423.26 359.64,425.29 361.25,422.68 362.86,424.22 364.48,423.52 366.09,424.30 367.71,423.38 369.32,424.35 370.94,423.79 372.55,424.20 374.17,424.89 375.78,423.98 377.40,422.73 379.01,422.50 380.62,424.95 382.24,423.65 383.85,422.81 385.47,424.90 387.08,423.85 388.70,424.26 390.31,424.67 391.93,422.98 393.54,423.17 395.16,424.61 396.77,422.51 398.39,424.26 400.00,422.37 401.67,423.96 403.33,423.92 405.00,424.53 406.67,424.16 408.33,423.14 410.00,422.20 411.67,422.00 413.33,422.98 415.00,422.85 416.67,421.55 418.33,423.80 420.00,422.62 422.10,423.16 424.20,421.82 426.30,422.17 428.27,420.81 430.25,419.69 432.23,418.58 434.20,417.87 436.27,417.79 438.33,418.56 440.40,418.66 442.50,416.39 444.60,415.69 446.70,414.66 449.05,413.32 451.40,411.90 453.00,409.21 454.60,407.08 456.20,404.52 458.15,399.70 460.10,395.31 462.05,388.83 464.00,382.46 467.20,365.97 469.00,349.39 470.80,332.96 473.50,309.28 476.30,332.97 477.95,344.04 479.60,354.91 481.30,361.48 483.00,368.13 485.80,373.63 487.70,373.81 489.60,373.74 491.80,376.68 494.00,379.30 496.20,383.79 498.40,388.30 500.10,391.47 501.80,395.00 504.15,398.95 506.50,402.95 508.85,406.58 511.20,410.20 514.30,411.64 517.00,410.20 519.40,411.59 521.80,414.07 523.83,414.03 525.87,415.79 527.90,415.45 529.50,416.32 531.10,415.60 532.70,415.49 534.55,414.31 536.40,413.15 538.80,410.66 540.70,408.22 543.60,413.02 545.23,414.98 546.87,416.06 548.50,417.26 550.90,418.62 553.30,421.07 555.12,422.19 556.95,422.42 558.77,421.98 560.60,423.33 562.21,424.15 563.82,424.13 565.43,423.46 567.05,423.26 568.66,423.18 570.27,422.82 571.88,422.75 573.49,423.46 575.10,422.53 576.71,424.27 578.33,424.24 579.94,423.98 581.55,422.35 583.16,423.32 584.77,423.53 586.38,422.59 587.99,425.05 589.61,424.47 591.22,423.78 592.83,424.36 594.44,422.96 596.05,423.06 597.66,423.90 599.27,424.53 600.89,424.27 602.50,422.49 604.11,424.20 605.72,425.04 607.33,424.60 608.94,425.13 610.55,425.29 612.17,423.18 613.78,423.40 615.39,424.12 617.00,425.34" stroke="#7e2f8e"/>
</g>
<rect x="322.5" y="227" width="294.0" height="199.10000000000002" fill="none" stroke="#7a7a7a" stroke-width="1"/>
<line x1="322.5" y1="424.5" x2="325.7" y2="424.5" stroke="#7a7a7a"/><line x1="616.5" y1="424.5" x2="613.3" y2="424.5" stroke="#7a7a7a"/>
<text x="317" y="431.1" font-size="17.7" text-anchor="end" fill="#262626" font-weight="normal" >0</text>
<line x1="322.5" y1="376.2" x2="325.7" y2="376.2" stroke="#7a7a7a"/><line x1="616.5" y1="376.2" x2="613.3" y2="376.2" stroke="#7a7a7a"/>
<text x="317" y="382.83000000000004" font-size="17.7" text-anchor="end" fill="#262626" font-weight="normal" >10</text>
<line x1="322.5" y1="328.0" x2="325.7" y2="328.0" stroke="#7a7a7a"/><line x1="616.5" y1="328.0" x2="613.3" y2="328.0" stroke="#7a7a7a"/>
<text x="317" y="334.56000000000006" font-size="17.7" text-anchor="end" fill="#262626" font-weight="normal" >20</text>
<line x1="322.5" y1="279.7" x2="325.7" y2="279.7" stroke="#7a7a7a"/><line x1="616.5" y1="279.7" x2="613.3" y2="279.7" stroke="#7a7a7a"/>
<text x="317" y="286.29" font-size="17.7" text-anchor="end" fill="#262626" font-weight="normal" >30</text>
<line x1="322.5" y1="231.4" x2="325.7" y2="231.4" stroke="#7a7a7a"/><line x1="616.5" y1="231.4" x2="613.3" y2="231.4" stroke="#7a7a7a"/>
<text x="317" y="238.02" font-size="17.7" text-anchor="end" fill="#262626" font-weight="normal" >40</text>
<line x1="371.4" y1="426.1" x2="371.4" y2="423.1" stroke="#7a7a7a"/><line x1="371.4" y1="227" x2="371.4" y2="230" stroke="#7a7a7a"/>
<text x="372.20000000000005" y="448" font-size="17.7" text-anchor="middle" fill="#262626" font-weight="normal" >10</text>
<line x1="469.2" y1="426.1" x2="469.2" y2="423.1" stroke="#7a7a7a"/><line x1="469.2" y1="227" x2="469.2" y2="230" stroke="#7a7a7a"/>
<text x="469.25" y="448" font-size="17.7" text-anchor="middle" fill="#262626" font-weight="normal" >5</text>
<line x1="567.1" y1="426.1" x2="567.1" y2="423.1" stroke="#7a7a7a"/><line x1="567.1" y1="227" x2="567.1" y2="230" stroke="#7a7a7a"/>
<text x="567.1" y="448" font-size="17.7" text-anchor="middle" fill="#262626" font-weight="normal" >0</text>
<rect x="511.5" y="233.5" width="99" height="65.5" fill="#fff" stroke="#666" stroke-width="1"/>
<line x1="514" y1="244.7" x2="536" y2="244.7" stroke="#0072bd" stroke-width="1.4"/>
<text x="538" y="251.0" font-size="17.8" text-anchor="start" fill="#000" font-weight="normal" >0 min</text>
<line x1="514" y1="266.09999999999997" x2="536" y2="266.09999999999997" stroke="#d95319" stroke-width="1.4"/>
<text x="538" y="272.4" font-size="17.8" text-anchor="start" fill="#000" font-weight="normal" >60 min</text>
<line x1="514" y1="287.5" x2="536" y2="287.5" stroke="#7e2f8e" stroke-width="1.4"/>
<text x="538" y="293.8" font-size="17.8" text-anchor="start" fill="#000" font-weight="normal" >120 mim</text>
<text x="544.5" y="370" font-size="21.5" font-weight="bold" fill="#000" stroke="#fff" stroke-width="0.45" textLength="31" lengthAdjust="spacingAndGlyphs">Lac</text>
<line x1="560.4" y1="378" x2="550.4" y2="393.6" stroke="#000" stroke-width="4"/>
<polygon points="543.9,402.9 545.1,390.2 556,396.2" fill="#000"/></g>
</svg>
</body></html>
